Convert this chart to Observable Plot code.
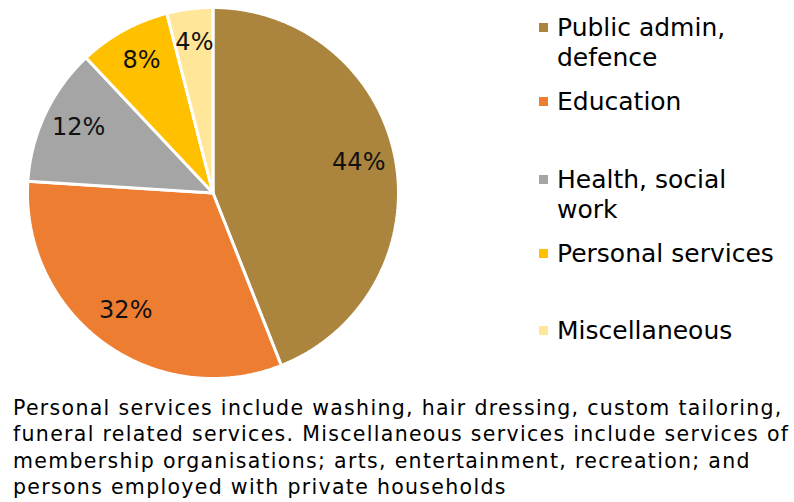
<!DOCTYPE html>
<html>
<head>
<meta charset="utf-8">
<script src="https://cdn.jsdelivr.net/npm/d3@7"></script>
<script src="https://cdn.jsdelivr.net/npm/@observablehq/plot@0.6"></script>
<style>
  html, body { margin: 0; padding: 0; background: #fff; }
  #wrap { position: relative; width: 794px; height: 502px; overflow: hidden; }
  #chart { position: absolute; left: 0; top: 0; }
  #legend { position: absolute; left: 0; top: 0; font-family: "DejaVu Sans", sans-serif; font-size: 25px; color: #000; }
  .item { position: absolute; left: 557px; line-height: 30px; white-space: nowrap; }
  .sw { position: absolute; left: -18px; top: 10px; width: 9px; height: 9px; }
  #caption { position: absolute; left: 13px; top: 395px; font-family: "DejaVu Sans", sans-serif; font-size: 20.5px; line-height: 26.3px; color: #000; white-space: nowrap; }
  #caption div { white-space: nowrap; }
</style>
</head>
<body>
<div id="wrap">
  <div id="chart"></div>
  <div id="legend"></div>
  <div id="caption"></div>
</div>
<script>
// ---- data ----
const categories = ["Public admin, defence", "Education", "Health, social work", "Personal services", "Miscellaneous"];
const legendLines = [["Public admin,", "defence"], ["Education"], ["Health, social", "work"], ["Personal services"], ["Miscellaneous"]];
const shares = [44, 32, 12, 8, 4];
const colors = ["#AB853D", "#ED7D31", "#A5A5A5", "#FFC000", "#FFE699"];
const captionLines = [
  "Personal services include washing, hair dressing, custom tailoring,",
  "funeral related services. Miscellaneous services include services of",
  "membership organisations; arts, entertainment, recreation; and",
  "persons employed with private households"
];

// ---- geometry derived from data ----
const W = 794, H = 380;
const cx = 212.5, cy = 192.5, R = 185.5;
const arcs = d3.pie().sort(null).startAngle(0).endAngle(2 * Math.PI)(shares);

const wedgePts = [];
arcs.forEach((a, i) => {
  const cat = categories[i];
  wedgePts.push({cat, x: 0, y: 0});
  const n = Math.max(2, Math.ceil((a.endAngle - a.startAngle) / (Math.PI / 360)));
  for (let k = 0; k <= n; k++) {
    const t = a.startAngle + (a.endAngle - a.startAngle) * k / n;
    wedgePts.push({cat, x: Math.sin(t), y: Math.cos(t)});
  }
});

const labels = arcs.map((a, i) => {
  const m = (a.startAngle + a.endAngle) / 2;
  return {cat: categories[i], text: shares[i] + "%", x: 0.8 * Math.sin(m), y: 0.8 * Math.cos(m)};
});

const plot = Plot.plot({
  width: W, height: H,
  margin: 0,
  x: {type: "linear", domain: [-cx / R, (W - cx) / R], range: [0, W], axis: null},
  y: {type: "linear", domain: [-(H - cy) / R, cy / R], range: [H, 0], axis: null},
  color: {domain: categories, range: colors},
  style: {background: "transparent", overflow: "visible"},
  marks: [
    Plot.line(wedgePts, {x: "x", y: "y", z: "cat", fill: "cat", stroke: "white", strokeWidth: 3, curve: "linear-closed", strokeLinejoin: "miter"}),
    Plot.text(labels, {x: "x", y: "y", text: "text", fontSize: 24, fill: "#111", fontFamily: "DejaVu Sans", textAnchor: "middle", dy: -3})
  ]
});
document.getElementById("chart").appendChild(plot);

// legend (HTML)
const itemTops = [13, 87, 165, 239, 316];
const leg = document.getElementById("legend");
categories.forEach((c, i) => {
  const d = document.createElement("div");
  d.className = "item";
  d.style.top = itemTops[i] + "px";
  const sw = document.createElement("span");
  sw.className = "sw";
  sw.style.background = colors[i];
  d.appendChild(sw);
  legendLines[i].forEach((l, j) => {
    if (j) d.appendChild(document.createElement("br"));
    d.appendChild(document.createTextNode(l));
  });
  leg.appendChild(d);
});

// caption with tracking to match reference width
const cap = document.getElementById("caption");
const ctx = document.createElement("canvas").getContext("2d");
ctx.font = "20.5px 'DejaVu Sans'";
const w0 = ctx.measureText(captionLines[0]).width;
const ls = Math.max(0, (770 - w0) / captionLines[0].length);
cap.style.letterSpacing = ls.toFixed(2) + "px";
captionLines.forEach((l) => {
  const d = document.createElement("div");
  d.textContent = l;
  cap.appendChild(d);
});
</script>
</body>
</html>
